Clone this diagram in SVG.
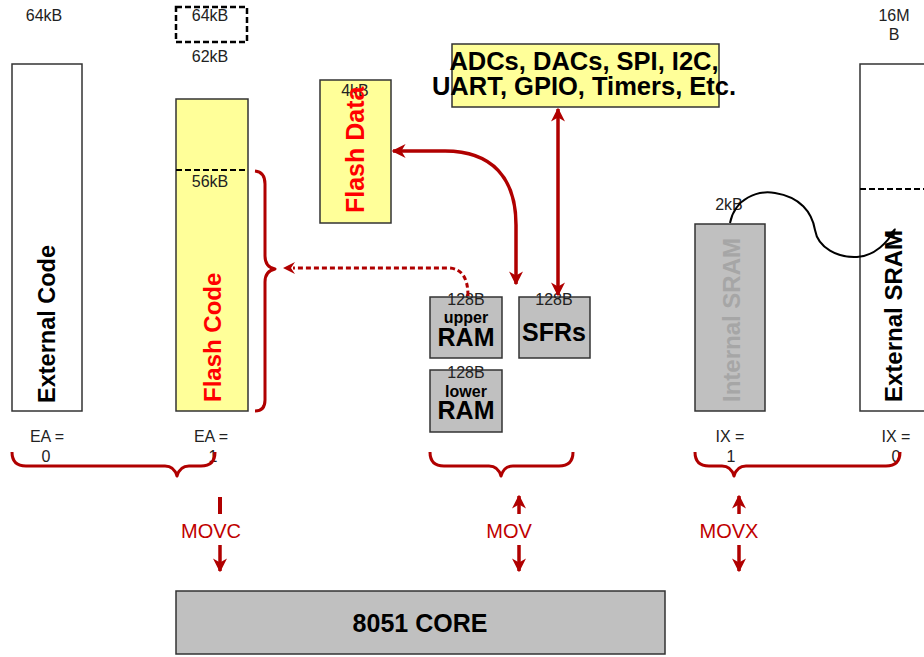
<svg xmlns="http://www.w3.org/2000/svg" width="924" height="657" viewBox="0 0 924 657">
<defs>
<style>
.box{stroke:#333;stroke-width:1.5}
.white{fill:#fff}
.yellow{fill:#ffff99}
.gray{fill:#c0c0c0}
.sm{font-family:"Liberation Sans",Arial,sans-serif;font-size:16px;fill:#222;text-anchor:middle}
.bold{font-family:"Liberation Sans",Arial,sans-serif;font-weight:bold;text-anchor:middle}
.vt{font-family:"Liberation Sans",Arial,sans-serif;font-weight:bold;text-anchor:start}
.red{fill:#ff0000}
.mov{font-family:"Liberation Sans",Arial,sans-serif;font-size:20px;fill:#c00000;text-anchor:middle}
.rl{fill:none;stroke:#b00000;stroke-width:3.5}
.br{fill:none;stroke:#b00000;stroke-width:3;stroke-linejoin:round}
</style>
<marker id="ah" viewBox="0 0 10 10" refX="9" refY="5" markerWidth="4" markerHeight="4" orient="auto-start-reverse" markerUnits="strokeWidth">
<path d="M0,0 L10,5 L0,10 L3,5 Z" fill="#b00000"/>
</marker>
<marker id="ahd" viewBox="0 0 10 10" refX="9" refY="5" markerWidth="4" markerHeight="4" orient="auto" markerUnits="strokeWidth">
<path d="M0,0 L10,5 L0,10 L3,5 Z" fill="#b00000"/>
</marker>
<marker id="ahb" viewBox="0 0 10 10" refX="9" refY="5" markerWidth="5" markerHeight="5" orient="auto" markerUnits="strokeWidth">
<path d="M0,1 L10,5 L0,9 Z" fill="#000"/>
</marker>
</defs>
<rect width="924" height="657" fill="#fff"/>

<g id="external-code">
<rect class="box white" x="12" y="64" width="70" height="347"/>
<text class="vt" font-size="23.5" transform="translate(55,403) rotate(-90)">External Code</text>
<text class="sm" x="44" y="21">64kB</text>
<text class="sm" x="47" y="442">EA =</text>
<text class="sm" x="46" y="462">0</text>
</g>

<g id="flash-code-top">
<rect x="176" y="7" width="71" height="35" fill="none" stroke="#000" stroke-width="2.5" stroke-dasharray="6,3"/>
<text class="sm" x="210" y="21">64kB</text>
<text class="sm" x="210" y="62">62kB</text>
</g>

<g id="flash-code">
<rect class="box yellow" x="176" y="99" width="72" height="312"/>
<line x1="176" y1="170" x2="248" y2="170" stroke="#000" stroke-width="2" stroke-dasharray="6,3"/>
<text class="sm" x="210" y="187">56kB</text>
<text class="vt red" font-size="24" transform="translate(221,402) rotate(-90)">Flash Code</text>
<text class="sm" x="211" y="442">EA =</text>
<text class="sm" x="213" y="462">1</text>
</g>

<g id="flash-data">
<rect class="box yellow" x="320" y="80" width="71" height="143"/>
<text class="sm" x="355" y="96">4kB</text>
<text class="vt red" font-size="25" transform="translate(364,213) rotate(-90)">Flash Data</text>
</g>

<g id="peripherals">
<rect class="box yellow" x="452" y="44" width="267" height="63"/>
<text class="bold" font-size="25.5" x="584" y="70">ADCs, DACs, SPI, I2C,</text>
<text class="bold" font-size="25.5" x="584" y="95">UART, GPIO, Timers, Etc.</text>
</g>

<g id="upper-ram">
<rect class="box gray" x="430" y="297" width="72" height="61"/>
<text class="sm" x="466" y="305">128B</text>
<text class="bold" font-size="16" x="466" y="323">upper</text>
<text class="bold" font-size="25" x="466" y="346">RAM</text>
</g>

<g id="sfrs">
<rect class="box gray" x="519" y="297" width="71" height="61"/>
<text class="sm" x="554" y="305">128B</text>
<text class="bold" font-size="25" x="554" y="341">SFRs</text>
</g>

<g id="lower-ram">
<rect class="box gray" x="430" y="370" width="72" height="62"/>
<text class="sm" x="466" y="378">128B</text>
<text class="bold" font-size="16" x="466" y="397">lower</text>
<text class="bold" font-size="25" x="466" y="419">RAM</text>
</g>

<g id="internal-sram">
<rect class="box gray" x="695" y="224" width="70" height="187"/>
<text class="vt" font-size="24" fill="#a6a6a6" transform="translate(740,402) rotate(-90)">Internal SRAM</text>
<text class="sm" x="729" y="210">2kB</text>
<text class="sm" x="730" y="442">IX =</text>
<text class="sm" x="731" y="462">1</text>
</g>

<g id="external-sram">
<rect class="box white" x="860" y="64" width="70" height="347"/>
<line x1="860" y1="189" x2="924" y2="189" stroke="#000" stroke-width="2" stroke-dasharray="6,3"/>
<text class="vt" font-size="24" transform="translate(902,402) rotate(-90)">External SRAM</text>
<text class="sm" x="894" y="21">16M</text>
<text class="sm" x="894" y="40">B</text>
<text class="sm" x="896" y="442">IX =</text>
<text class="sm" x="896" y="462">0</text>
</g>

<g id="core">
<rect class="box gray" x="176" y="591" width="489" height="63"/>
<text class="bold" font-size="25" x="420" y="632">8051 CORE</text>
</g>

<g id="connectors">
<path class="br" d="M255,171 Q265,172 265,184 L265,256 Q265,267 275,269 Q265,271 265,282 L265,400 Q265,411 255,411"/>
<path d="M468,296 Q468,268 448,268 L293,268" fill="none" stroke="#b00000" stroke-width="3" stroke-dasharray="5,3"/>
<path d="M295,262 L283,268 L295,274 L291,268 Z" fill="#b00000"/>
<path class="rl" d="M516,284 L516,225 C516,178 492,151 445,151 L393,151" marker-start="url(#ah)" marker-end="url(#ah)"/>
<line class="rl" x1="558" y1="109" x2="558" y2="295" marker-start="url(#ah)" marker-end="url(#ah)"/>
<path d="M730,223 C735,198 758,190 775,193 C800,197 812,212 815,230 C818,248 838,258 857,257 C875,256 888,242 895,229" fill="none" stroke="#000" stroke-width="2" marker-end="url(#ahb)"/>
<path class="br" d="M12,452 Q12,466 26,466 L165,466 Q174,466 177,476 Q180,466 189,466 L201,466 Q215,466 215,452"/>
<path class="br" d="M430,452 Q430,466 444,466 L489,466 Q498,466 501,476 Q504,466 513,466 L559,466 Q573,466 573,452"/>
<path class="br" d="M695,452 Q695,466 709,466 L722,466 Q731,466 734,476 Q737,466 746,466 L886,466 Q900,466 900,452"/>
<line x1="220" y1="497" x2="220" y2="514" stroke="#b00000" stroke-width="4"/>
<line class="rl" x1="220" y1="545" x2="220" y2="571" stroke-width="4" marker-end="url(#ahd)"/>
<line class="rl" x1="519" y1="514" x2="519" y2="496" stroke-width="4" marker-end="url(#ahd)"/>
<line class="rl" x1="519" y1="545" x2="519" y2="571" stroke-width="4" marker-end="url(#ahd)"/>
<line class="rl" x1="739" y1="514" x2="739" y2="496" stroke-width="4" marker-end="url(#ahd)"/>
<line class="rl" x1="739" y1="545" x2="739" y2="571" stroke-width="4" marker-end="url(#ahd)"/>
<text class="mov" x="211" y="538">MOVC</text>
<text class="mov" x="509" y="538">MOV</text>
<text class="mov" x="729" y="538">MOVX</text>
</g>
</svg>
